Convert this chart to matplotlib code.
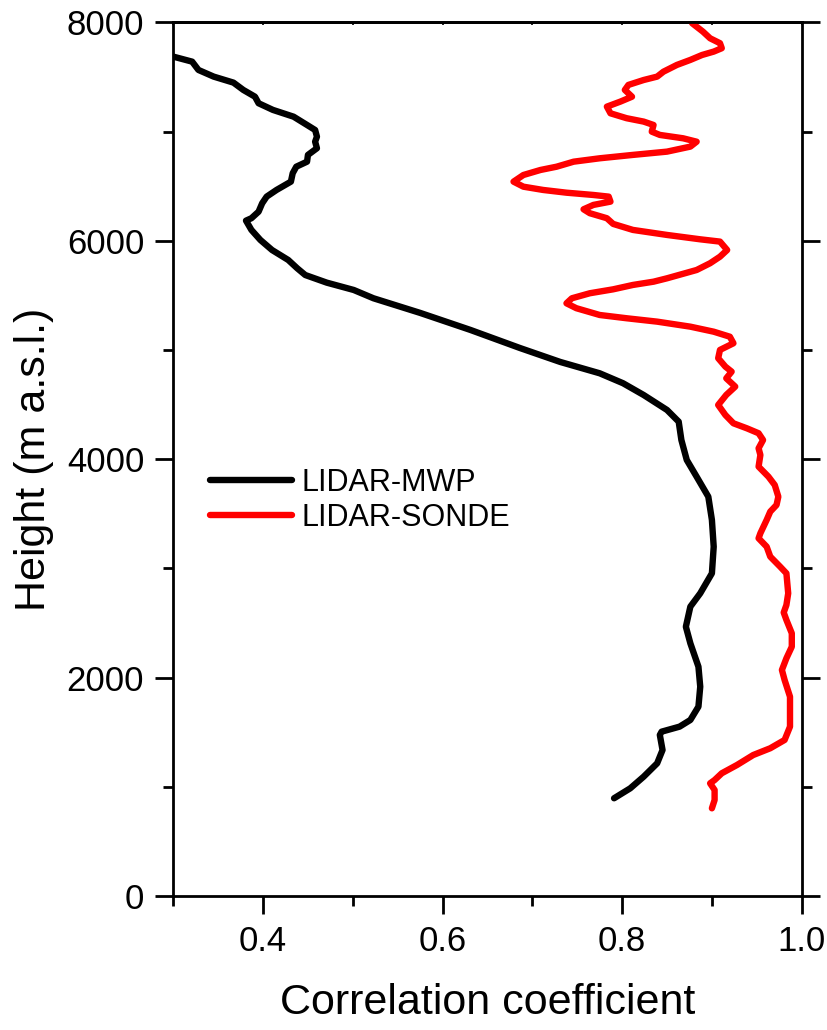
import matplotlib
matplotlib.use('Agg')
import matplotlib.pyplot as plt
from matplotlib.ticker import MultipleLocator

plt.rcParams['font.family'] = ['Liberation Sans', 'DejaVu Sans']

# LIDAR-MWP correlation profile
mwp_r = [0.300, 0.321, 0.328, 0.345, 0.367, 0.378, 0.391, 0.395, 0.411, 0.434,
         0.449, 0.458, 0.460, 0.458, 0.460, 0.450, 0.449, 0.437, 0.433, 0.431,
         0.415, 0.404, 0.399, 0.395, 0.387, 0.381, 0.387, 0.397, 0.410, 0.428,
         0.438, 0.447, 0.471, 0.501, 0.523, 0.575, 0.631, 0.686, 0.731, 0.775,
         0.801, 0.824, 0.850, 0.863, 0.866, 0.872, 0.883, 0.896, 0.900, 0.902,
         0.900, 0.887, 0.876, 0.871, 0.876, 0.885, 0.887, 0.885, 0.876, 0.864,
         0.844, 0.842, 0.845, 0.839, 0.824, 0.809, 0.791]
mwp_h = [7687, 7641, 7565, 7504, 7449, 7382, 7320, 7260, 7199, 7137,
         7061, 7015, 6954, 6908, 6848, 6787, 6725, 6679, 6619, 6542,
         6466, 6405, 6344, 6267, 6207, 6185, 6100, 6008, 5916, 5825,
         5749, 5687, 5617, 5550, 5474, 5340, 5184, 5019, 4891, 4787,
         4696, 4588, 4451, 4344, 4176, 3993, 3840, 3657, 3444, 3199,
         2955, 2772, 2650, 2466, 2314, 2100, 1917, 1734, 1612, 1551,
         1505, 1475, 1337, 1215, 1093, 986, 895]

# LIDAR-SONDE correlation profile
sonde_r = [0.878, 0.890, 0.898, 0.909, 0.911, 0.902, 0.889, 0.876, 0.861, 0.846,
           0.839, 0.824, 0.807, 0.803, 0.811, 0.798, 0.783, 0.787, 0.805, 0.824,
           0.835, 0.833, 0.842, 0.868, 0.883, 0.876, 0.850, 0.812, 0.775, 0.746,
           0.727, 0.709, 0.690, 0.679, 0.690, 0.712, 0.738, 0.768, 0.785, 0.787,
           0.768, 0.757, 0.764, 0.783, 0.790, 0.812, 0.850, 0.887, 0.909, 0.917,
           0.909, 0.898, 0.883, 0.850, 0.835, 0.812, 0.790, 0.764, 0.744, 0.738,
           0.749, 0.775, 0.805, 0.839, 0.876, 0.902, 0.920, 0.924, 0.909, 0.907,
           0.915, 0.922, 0.916, 0.926, 0.916, 0.907, 0.915, 0.924, 0.939, 0.952,
           0.957, 0.952, 0.954, 0.952, 0.963, 0.970, 0.974, 0.972, 0.965, 0.961,
           0.954, 0.952, 0.961, 0.965, 0.976, 0.983, 0.985, 0.983, 0.980, 0.983,
           0.989, 0.989, 0.983, 0.978, 0.981, 0.987, 0.987, 0.981, 0.965, 0.946,
           0.928, 0.911, 0.903, 0.898, 0.903, 0.903, 0.900]
sonde_h = [7993, 7916, 7855, 7810, 7764, 7733, 7702, 7657, 7611, 7549,
           7504, 7473, 7428, 7382, 7320, 7275, 7229, 7168, 7123, 7092,
           7061, 7000, 6970, 6939, 6908, 6863, 6817, 6787, 6756, 6725,
           6679, 6649, 6603, 6542, 6496, 6466, 6441, 6420, 6405, 6359,
           6329, 6289, 6253, 6207, 6155, 6100, 6054, 6014, 5993, 5916,
           5855, 5795, 5733, 5657, 5626, 5596, 5556, 5520, 5474, 5428,
           5383, 5321, 5291, 5260, 5214, 5168, 5122, 5062, 5001, 4925,
           4848, 4802, 4741, 4665, 4589, 4497, 4405, 4329, 4283, 4238,
           4176, 4100, 4039, 3932, 3840, 3764, 3657, 3581, 3520, 3444,
           3322, 3276, 3199, 3108, 3016, 2955, 2772, 2665, 2596, 2528,
           2406, 2283, 2177, 2070, 1978, 1825, 1551, 1429, 1353, 1291,
           1200, 1124, 1062, 1032, 971, 879, 803]

fig = plt.figure(figsize=(8.28, 10.3), dpi=100)
ax = fig.add_axes([0.2093, 0.1301, 0.7589, 0.8481])

ax.plot(mwp_r, mwp_h, color='black', lw=4.6, solid_capstyle='round',
        solid_joinstyle='round', label='LIDAR-MWP')
ax.plot(sonde_r, sonde_h, color='#ff0000', lw=4.6, solid_capstyle='round',
        solid_joinstyle='round', label='LIDAR-SONDE')

ax.set_xlim(0.3, 1.0)
ax.set_ylim(0, 8000)
ax.xaxis.set_major_locator(MultipleLocator(0.2))
ax.xaxis.set_minor_locator(MultipleLocator(0.1))
ax.yaxis.set_major_locator(MultipleLocator(2000))
ax.yaxis.set_minor_locator(MultipleLocator(1000))
ax.xaxis.set_major_formatter(lambda v, p: '%.1f' % v)

for s in ax.spines.values():
    s.set_linewidth(2.0)

ax.tick_params(which='both', direction='out', width=2.0, labelsize=25,
               left=True, right=True, bottom=True, top=False)
ax.tick_params(which='major', length=13, pad=8)
ax.tick_params(which='minor', length=7)

top = ax.secondary_xaxis('top')
top.set_xticks([0.3, 0.4, 0.5, 0.6, 0.7, 0.8, 0.9, 1.0])
top.tick_params(direction='in', length=2, width=1.2, labeltop=False)
top.spines['top'].set_linewidth(2.0)

ax.set_xlabel('Correlation coefficient', fontsize=31, labelpad=18)
ax.set_ylabel('Height (m a.s.l.)', fontsize=31, labelpad=9)

ax.legend(loc='upper left', bbox_to_anchor=(0.058, 0.49), frameon=False,
          fontsize=22, handlelength=2.7, handletextpad=0.3, labelspacing=0.15,
          borderpad=0, borderaxespad=0)

fig.savefig('out.png', dpi=100)
